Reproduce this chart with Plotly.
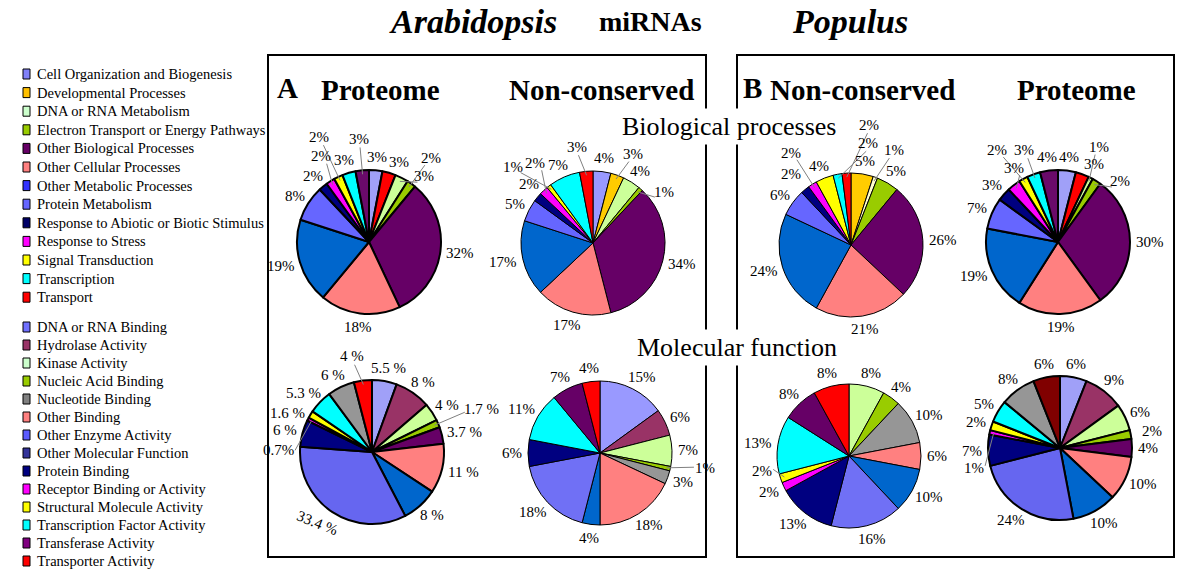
import math
import plotly.graph_objects as go

W, H = 1200, 581
FONT = "Liberation Serif"

# ---------------- legend data ----------------
bp_categories = [
    "Cell Organization and Biogenesis", "Developmental Processes", "DNA or RNA Metabolism",
    "Electron Transport or Energy Pathways", "Other Biological Processes", "Other Cellular Processes",
    "Other Metabolic Processes", "Protein Metabolism", "Response to Abiotic or Biotic Stimulus",
    "Response to Stress", "Signal Transduction", "Transcription", "Transport",
]
bp_legend_colors = ["#8080F8", "#FFC000", "#CCFFCC", "#99CC00", "#660066", "#FF8080", "#3333FF",
                    "#6666FF", "#000066", "#FF00FF", "#FFFF00", "#00FFFF", "#FF0000"]

mf_categories = [
    "DNA or RNA Binding", "Hydrolase Activity", "Kinase Activity", "Nucleic Acid Binding",
    "Nucleotide Binding", "Other Binding", "Other Enzyme Activity", "Other Molecular Function",
    "Protein Binding", "Receptor Binding or Activity", "Structural Molecule Activity",
    "Transcription Factor Activity", "Transferase Activity", "Transporter Activity",
]
mf_legend_colors = ["#7070FF", "#993366", "#CCFFCC", "#99CC00", "#808080", "#FF8080", "#5A5AFF",
                    "#333399", "#000080", "#FF00FF", "#FFFF00", "#00FFFF", "#800080", "#FF0000"]

# ---------------- pie data (clockwise from 12 o'clock) ----------------
ara_prot_bp_labels = ["Cell Organization and Biogenesis", "Transport", "DNA or RNA Metabolism",
                      "Electron Transport or Energy Pathways", "Other Biological Processes",
                      "Other Cellular Processes", "Other Metabolic Processes", "Protein Metabolism",
                      "Response to Abiotic or Biotic Stimulus", "Response to Stress",
                      "Signal Transduction", "Transcription", "Developmental Processes"]
ara_prot_bp_values = [3, 3, 3, 2, 32, 18, 19, 8, 2, 2, 2, 3, 3]
ara_prot_bp_colors = ["#A0A0F8", "#FF0000", "#CCFF99", "#99CC00", "#660066", "#FF8080", "#0066CC",
                      "#6666FF", "#000080", "#FF00FF", "#FFFF00", "#00FFFF", "#6A0A6A"]

ara_nc_bp_labels = ["Cell Organization and Biogenesis", "Developmental Processes", "DNA or RNA Metabolism",
                    "Electron Transport or Energy Pathways", "Other Biological Processes",
                    "Other Cellular Processes", "Other Metabolic Processes", "Protein Metabolism",
                    "Response to Abiotic or Biotic Stimulus", "Response to Stress",
                    "Signal Transduction", "Transcription", "Transport"]
ara_nc_bp_values = [4, 3, 4, 1, 34, 17, 17, 5, 2, 2, 1, 7, 3]
ara_nc_bp_colors = ["#9999FF", "#FFCC00", "#CCFF99", "#99CC00", "#660066", "#FF8080", "#0066CC",
                    "#6666FF", "#000080", "#FF00FF", "#FFFF00", "#00FFFF", "#FF0000"]

pop_nc_bp_labels = ["Developmental Processes", "DNA or RNA Metabolism",
                    "Electron Transport or Energy Pathways", "Other Biological Processes",
                    "Other Cellular Processes", "Other Metabolic Processes", "Protein Metabolism",
                    "Response to Abiotic or Biotic Stimulus", "Response to Stress",
                    "Signal Transduction", "Transcription", "Transport"]
pop_nc_bp_values = [5, 1, 5, 26, 21, 24, 6, 2, 2, 4, 2, 2]
pop_nc_bp_colors = ["#FFCC00", "#FFFFCC", "#99CC00", "#660066", "#FF8080", "#0066CC",
                    "#6666FF", "#000080", "#FF00FF", "#FFFF00", "#00FFFF", "#FF0000"]

pop_prot_bp_labels = ["Cell Organization and Biogenesis", "Transport", "DNA or RNA Metabolism",
                      "Electron Transport or Energy Pathways", "Other Biological Processes",
                      "Other Cellular Processes", "Other Metabolic Processes", "Protein Metabolism",
                      "Response to Abiotic or Biotic Stimulus", "Response to Stress",
                      "Signal Transduction", "Transcription", "Developmental Processes"]
pop_prot_bp_values = [4, 3, 1, 2, 30, 19, 19, 7, 3, 3, 2, 3, 4]
pop_prot_bp_colors = ["#A0A0F8", "#FF0000", "#CCFF99", "#99CC00", "#660066", "#FF8080", "#0066CC",
                      "#6666FF", "#000080", "#FF00FF", "#FFFF00", "#00FFFF", "#6A0A6A"]

ara_prot_mf_labels = ["DNA or RNA Binding", "Hydrolase Activity", "Kinase Activity", "Nucleic Acid Binding",
                      "Transferase Activity", "Other Binding", "Other Molecular Function",
                      "Other Enzyme Activity", "Protein Binding", "Receptor Binding or Activity",
                      "Structural Molecule Activity", "Transcription Factor Activity",
                      "Nucleotide Binding", "Transporter Activity"]
ara_prot_mf_values = [5.5, 8, 4, 1.7, 3.7, 11, 8, 33.4, 6, 0.7, 1.6, 5.3, 6, 4]
ara_prot_mf_text = ["5.5 %", "8 %", "4 %", "1.7 %", "3.7 %", "11 %", "8 %", "33.4 %", "6 %",
                    "0.7%", "1.6 %", "5.3 %", "6 %", "4 %"]
ara_prot_mf_colors = ["#A0A0F8", "#993366", "#CCFF99", "#99CC00", "#660066", "#FF8080", "#0066CC",
                      "#6666F0", "#000080", "#FF00FF", "#FFFF00", "#00FFFF", "#969696", "#FF0000"]

ara_nc_mf_labels = ["DNA or RNA Binding", "Hydrolase Activity", "Kinase Activity", "Nucleic Acid Binding",
                    "Nucleotide Binding", "Other Binding", "Other Molecular Function",
                    "Other Enzyme Activity", "Protein Binding", "Transcription Factor Activity",
                    "Transferase Activity", "Transporter Activity"]
ara_nc_mf_values = [15, 6, 7, 1, 3, 18, 4, 18, 6, 11, 7, 4]
ara_nc_mf_colors = ["#9999FF", "#993366", "#CCFF99", "#99CC00", "#969696", "#FF8080", "#0066CC",
                    "#7070F5", "#000080", "#00FFFF", "#660066", "#FF0000"]

pop_nc_mf_labels = ["Kinase Activity", "Nucleic Acid Binding", "Nucleotide Binding", "Other Binding",
                    "Other Molecular Function", "Other Enzyme Activity", "Protein Binding",
                    "Receptor Binding or Activity", "Structural Molecule Activity",
                    "Transcription Factor Activity", "Transferase Activity", "Transporter Activity"]
pop_nc_mf_values = [8, 4, 10, 6, 10, 16, 13, 2, 2, 13, 8, 8]
pop_nc_mf_colors = ["#CCFF99", "#99CC00", "#969696", "#FF8080", "#0066CC", "#7070F5", "#000080",
                    "#FF00FF", "#FFFF00", "#00FFFF", "#660066", "#FF0000"]

pop_prot_mf_labels = ["DNA or RNA Binding", "Hydrolase Activity", "Kinase Activity", "Nucleic Acid Binding",
                      "Transferase Activity", "Other Binding", "Other Molecular Function",
                      "Other Enzyme Activity", "Protein Binding", "Receptor Binding or Activity",
                      "Structural Molecule Activity", "Transcription Factor Activity",
                      "Nucleotide Binding", "Transporter Activity"]
pop_prot_mf_values = [6, 9, 6, 2, 4, 10, 10, 24, 7, 1, 2, 5, 8, 6]
pop_prot_mf_colors = ["#A0A0F8", "#993366", "#CCFF99", "#99CC00", "#660066", "#FF8080", "#0066CC",
                      "#6666F0", "#000080", "#FF00FF", "#FFFF00", "#00FFFF", "#969696", "#800000"]

# ---------------- layout (pixel positions) ----------------
R = 72
pies = [
    dict(labels=ara_prot_bp_labels, values=ara_prot_bp_values, colors=ara_prot_bp_colors, text=None, c=(369, 242), lw=2),
    dict(labels=ara_nc_bp_labels, values=ara_nc_bp_values, colors=ara_nc_bp_colors, text=None, c=(593, 243), lw=1),
    dict(labels=pop_nc_bp_labels, values=pop_nc_bp_values, colors=pop_nc_bp_colors, text=None, c=(851, 245), lw=1),
    dict(labels=pop_prot_bp_labels, values=pop_prot_bp_values, colors=pop_prot_bp_colors, text=None, c=(1058, 242), lw=2),
    dict(labels=ara_prot_mf_labels, values=ara_prot_mf_values, colors=ara_prot_mf_colors, text=ara_prot_mf_text, c=(372, 452), lw=2),
    dict(labels=ara_nc_mf_labels, values=ara_nc_mf_values, colors=ara_nc_mf_colors, text=None, c=(600, 453), lw=1),
    dict(labels=pop_nc_mf_labels, values=pop_nc_mf_values, colors=pop_nc_mf_colors, text=None, c=(849, 456), lw=1),
    dict(labels=pop_prot_mf_labels, values=pop_prot_mf_values, colors=pop_prot_mf_colors, text=None, c=(1060, 448), lw=2),
]
ROTATED = {(4, 7): 22}  # (pie index, slice index): text angle

titles = [
    ("<b><i>Arabidopsis</i></b>", 473, 22, 34, None),
    ("<b>miRNAs</b>", 650, 22, 28, None),
    ("<b><i>Populus</i></b>", 850, 22, 34, None),
    ("<b>A</b>", 287, 88, 29, None),
    ("<b>Proteome</b>", 380, 90, 29, None),
    ("<b>Non-conserved</b>", 601, 90, 29, None),
    ("<b>B</b>", 752, 88, 29, None),
    ("<b>Non-conserved</b>", 862, 90, 29, None),
    ("<b>Proteome</b>", 1076, 90, 29, None),
    ("Biological processes", 729, 126, 26, "white"),
    ("Molecular function", 737, 347, 26, "white"),
]


def px(x):
    return x / W


def py(y):
    return 1 - y / H


def text_width(s, size):
    w = 0
    for ch in s:
        if ch == "%":
            w += 0.833
        elif ch in ". ":
            w += 0.25
        else:
            w += 0.5
    return w * size + 2


def overlaps(b, boxes):
    for o in boxes:
        if b[0] < o[2] and b[2] > o[0] and b[1] < o[3] and b[3] > o[1]:
            return True
    return False


fig = go.Figure()
annotations = []
shapes = []
LBL = 15
GAP = 5
TH = 17  # text box height for collision test

# title boxes are obstacles for the percentage labels
placed = []
for t, x, y, s, bg in titles:
    plain = t.replace("<b>", "").replace("</b>", "").replace("<i>", "").replace("</i>", "")
    hw = 0.45 * s * len(plain) / 2 + 4
    placed.append((x - hw, y - s * 0.65, x + hw, y + s * 0.65))

cands = []
for g in range(0, 64, 6):
    for d in [0, 4, -4, 8, -8, 12, -12, 16, -16, 20, -20, 26, -26]:
        cands.append((g + abs(d) * 1.3, g, d))
cands.sort()

for pi, p in enumerate(pies):
    cx, cy = p["c"]
    fig.add_trace(go.Pie(
        labels=p["labels"], values=p["values"], sort=False, direction="clockwise", rotation=0,
        marker=dict(colors=p["colors"], line=dict(color="black", width=p["lw"])),
        textinfo="none", hoverinfo="label+percent", showlegend=False,
        domain=dict(x=[px(cx - R), px(cx + R)], y=[py(cy + R), py(cy - R)]),
    ))
    total = sum(p["values"])
    texts = p["text"] or [f"{v:g}%" for v in p["values"]]
    mids = []
    cum = 0
    for v in p["values"]:
        mids.append(2 * math.pi * (cum + v / 2) / total)
        cum += v
    order = sorted(range(len(texts)), key=lambda i: -p["values"][i])
    for i in order:
        t = texts[i]
        w = text_width(t, LBL)
        chosen = None
        for cost, g, d in cands:
            th = mids[i] + math.radians(d)
            s, c = math.sin(th), math.cos(th)
            X = cx + (R + GAP + g) * s
            Y = cy - (R + GAP + g) * c
            bx = X + w / 2 * s
            by = Y - TH / 2 * c
            box = (bx - w / 2, by - TH / 2, bx + w / 2, by + TH / 2)
            if chosen is None:
                chosen = (cost, X, Y, bx, by, box)
            if not overlaps(box, placed):
                chosen = (cost, X, Y, bx, by, box)
                break
        cost, X, Y, bx, by, box = chosen
        placed.append(box)
        ann = dict(x=px(bx), y=py(by), xref="paper", yref="paper", text=t, showarrow=False,
                   xanchor="center", yanchor="middle",
                   font=dict(family=FONT, size=LBL, color="black"))
        if (pi, i) in ROTATED:
            ann["textangle"] = ROTATED[(pi, i)]
        annotations.append(ann)
        if cost > 9:
            s0, c0 = math.sin(mids[i]), math.cos(mids[i])
            shapes.append(dict(type="line", xref="paper", yref="paper",
                               x0=px(cx + (R - 4) * s0), y0=py(cy - (R - 4) * c0),
                               x1=px(X), y1=py(Y), line=dict(color="#808080", width=1)))

# Boxes
for x0, x1 in [(268, 706), (737, 1174)]:
    shapes.append(dict(type="rect", xref="paper", yref="paper", x0=px(x0), x1=px(x1),
                       y0=py(557), y1=py(55), line=dict(color="black", width=2)))


def add_legend(cats, cols, y0, step):
    for i, (cat, col) in enumerate(zip(cats, cols)):
        yc = y0 + i * step
        shapes.append(dict(type="rect", xref="paper", yref="paper", x0=px(23), x1=px(30),
                           y0=py(yc + 5), y1=py(yc - 5), fillcolor=col, line=dict(color="black", width=1)))
        annotations.append(dict(x=px(35), y=py(yc), xref="paper", yref="paper", text=cat, showarrow=False,
                                xanchor="left", yanchor="middle", font=dict(family=FONT, size=14.5, color="black")))


add_legend(bp_categories, bp_legend_colors, 74, 18.6)
add_legend(mf_categories, mf_legend_colors, 327, 18.0)

for t, x, y, s, bg in titles:
    a = dict(x=px(x), y=py(y), xref="paper", yref="paper", text=t, showarrow=False,
             xanchor="center", yanchor="middle", font=dict(family=FONT, size=s, color="black"))
    if bg:
        a["bgcolor"] = bg
        a["borderpad"] = 3
    annotations.append(a)

fig.update_layout(
    width=W, height=H, margin=dict(l=0, r=0, t=0, b=0),
    paper_bgcolor="white", plot_bgcolor="white",
    shapes=shapes, annotations=annotations, showlegend=False,
)

fig.write_html("out.html", post_script="document.body.style.margin='0';",
               config={"displayModeBar": False})
